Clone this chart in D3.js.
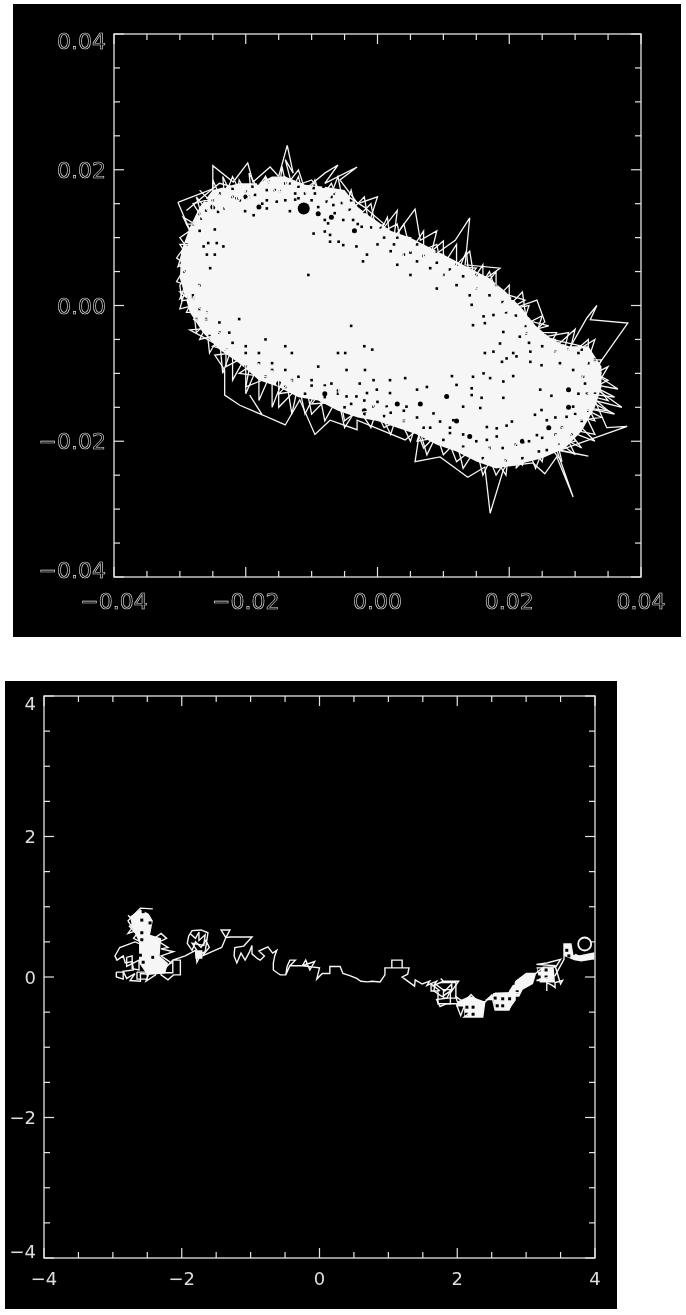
<!DOCTYPE html>
<html><head><meta charset="utf-8">
<script src="https://cdn.jsdelivr.net/npm/d3@7"></script>
<style>html,body{margin:0;background:#fff}svg{display:block}</style></head>
<body><div id="c"></div>
<script>
// ---------- top phase plot (values in thousandths of the axis unit) ----------
const topTickMajor = [-0.04,-0.02,0,0.02,0.04];
const topTickMinor = [-0.035,-0.03,-0.025,-0.015,-0.01,-0.005,0.005,0.01,0.015,0.025,0.03,0.035];
const topTickLabels = ["\u22120.04","\u22120.02","0.00","0.02","0.04"];
const topCore = [[-30,4],[-29.8,8],[-28.5,11.5],[-27,14.5],[-25,17],[-23,17.5],[-21,18],[-18,18],[-16,19],[-14,19],[-11,17.8],[-8,17.5],[-5,17],[-3,14.5],[-1,13],[2,11],[5,10],[8,8.5],[11,7],[14,5.5],[17,4],[19.5,2],[22,-0.5],[24,-3],[26.5,-5],[29,-6],[32,-6],[34,-9],[34,-12],[33,-15],[31,-18.5],[28.5,-21],[25,-22.5],[21,-23.5],[18,-24],[15,-23],[12,-21.5],[9,-20.5],[6,-19],[3,-18],[0,-17],[-3,-16.5],[-6,-15.5],[-9,-14],[-12,-13.5],[-15,-12],[-18,-11],[-21,-8.5],[-24,-6.5],[-26.5,-4],[-28.5,-1]];
const topOuter = [[-30.3,15.2],[-25,17.2],[-25,20.6],[-21.9,18.2],[-19.7,21],[-18.9,18.2],[-16.3,20.4],[-15,19],[-13.7,23.6],[-12.8,19.5],[-14,21.5],[-12.8,17],[-10.5,17.5],[-8,19.5],[-6,20.7],[-8,18],[-3.1,20.4],[-5.7,18.5],[-3,15],[0,16],[-1,13],[1,11.5],[3,14],[2.5,10],[5.7,14.2],[6.5,9.6],[9,11],[8,7],[11.8,9.6],[14,12.9],[13.3,6],[18.6,5.5],[15,3],[22.4,0.8],[19,-1],[24.2,0.8],[25.4,-2.4],[23.6,-4],[27.2,-4],[25.7,-6.6],[28.8,-6.9],[31.8,-1.8],[33.3,0],[32.3,-2.1],[38,-2.6],[32.7,-9.9],[36.5,-12.3],[32,-11.5],[37.1,-15],[33,-14],[34.8,-18],[37.9,-17.8],[27.7,-21.3],[32,-22.2],[27.2,-21.3],[29.7,-28.2],[27.2,-22.3],[25.4,-24.8],[23.6,-23.2],[20.1,-23.6],[21.6,-20.8],[19.1,-24.2],[17.1,-30.6],[16.3,-23.8],[13.7,-25.3],[9.5,-22.3],[5.7,-23],[6.5,-17.9],[4.2,-19.8],[-3.1,-16.9],[-3.1,-18.3],[-7.2,-16.9],[-9.5,-19],[-11.8,-13.9],[-14,-17.6],[-17.5,-16.1],[-19.4,-13.2],[-17.5,-16.1],[-20.9,-14.7],[-23.2,-13.2],[-23.2,-9.5],[-24.7,-7.3],[-22,-7],[-28.5,-3.6],[-25,-3.3],[-27,1.1],[-29.7,0.7],[-30,3],[-27.4,7.1],[-30.3,5.7],[-29.5,8.2],[-27,10],[-28.5,11.1],[-30.3,15.2]];
const topWeb = [[-27,17],[-24,14],[-22,19],[-20,15],[-17,19],[-16,15],[-12,20],[-10,14],[-7,18],[-5,13],[-2,16],[-1,10],[3,12],[4,7],[9,9],[10,4],[14,8],[15,2],[17,5],[19,-1],[22,2],[23,-5],[29,-4],[28,-8],[33,-5],[31,-11],[35,-9],[32,-14],[36,-16],[31,-15],[33,-19],[28,-18],[30,-22],[26,-19],[24,-24],[22,-19],[18,-25],[16,-20],[12,-23],[10,-18],[7,-21],[5,-16],[1,-18],[-1,-14],[-5,-17],[-6,-12],[-10,-16],[-11,-11],[-15,-15],[-15,-10],[-20,-12],[-19,-7],[-23,-9],[-23,-4],[-27,-5],[-25,-1],[-29,-1],[-27,3],[-30,1],[-28,6],[-30,9],[-27,9],[-29,12],[-26,12],[-28,15],[-24,16]];
const topWebTight = [[-28,10],[-29.5,13],[-26,11],[-27.5,16],[-25,13],[-25,18.5],[-23,14],[-23.5,19],[-21.5,15],[-21,18.5],[-19,15],[-19.5,19.5],[-17.5,16],[-17,19],[-15,16],[-14.5,20.5],[-13.5,16],[-12,19],[-11,15],[-9.5,18.5],[-8,14],[-6,19],[-5,14],[-4,17],[-3,13],[-1,15],[0,10],[1.5,13],[2,9],[4,12],[5,8],[7,11],[7,7],[10,9.5],[10,6],[12,9],[12,4.5],[13.5,8],[14,3],[16,6],[16,2.5],[18,5],[18,1],[20,3],[20,-0.5],[23,0],[22,-3],[25,-1.5],[24,-4.5],[27,-5],[26,-7],[30,-3.5],[29,-7.5],[32,-5],[32,-8],[34,-8],[33,-10],[35,-11],[33,-12],[36,-13.5],[32,-13],[35,-15.5],[31,-15],[34,-16.5],[30,-17],[33,-20],[29,-18.5],[31,-21],[27,-19],[28,-23],[25.5,-20],[25,-23],[23,-20.5],[22,-23.5],[20,-21],[19.5,-25],[17.5,-22],[16,-25],[15,-21],[13,-24],[12,-20],[10,-22],[9,-19],[7.5,-22],[6,-17],[5,-20],[3,-16],[2,-19],[0,-15],[-1,-18],[-3,-15],[-5,-18],[-6,-13.5],[-8,-17],[-9,-12],[-11,-16],[-12,-11.5],[-13,-16],[-14,-10],[-16,-15],[-16,-9.5],[-18,-14],[-18,-8.5],[-20,-13],[-20,-7.5],[-22,-11],[-22,-6],[-23.5,-10],[-24,-4.5],[-25.5,-7],[-26,-2.5],[-27.5,-4],[-28,0],[-30,-0.5],[-29,3],[-30.5,3.5],[-29,6],[-30.5,7],[-29,9]];
const topWebChords = [[-29,14],[-24,18],[-20,17],[-22,14],[-17,18],[-14,19],[-17,16],[-10,18.5],[-8,16],[-6,17],[-2,14.5],[1,12],[-1,11],[5,10],[3,8.5],[10,7.5],[8,6],[15,5.5],[13,3],[20,1.5],[18,-1],[26,-3],[22,-4],[31,-6],[27,-7],[34,-10],[31,-9],[35,-14],[31,-13],[33,-17],[29,-16],[30,-20],[26,-21],[27,-18],[21,-24],[22,-21],[16,-23],[17,-21],[11,-21],[12,-19],[6,-20],[7,-17],[1,-17],[2,-15],[-4,-16],[-3,-14],[-10,-14.5],[-8,-12],[-15,-13],[-13,-11],[-21,-10],[-18,-8],[-25,-6],[-22,-5],[-28,-2],[-25,-2],[-30,2],[-27,2],[-30,6],[-27,6],[-30,10],[-27,12]];
const topHoles = [[-23.9,18.7],[-23.2,17.5],[-21.4,15.8],[-20.9,15.5],[-19.4,16],[-18.6,16.3],[-16.8,15.5],[-15.3,15.3],[-13.3,18],[-12.5,16.5],[-12,15.8],[-24.2,13.8],[-23.2,14.3],[-20.1,13.9],[-18.8,13.3],[-16.8,14.3],[-13.3,13.9],[-12.5,15.6],[-14.8,16.8],[-15.6,17],[-16.8,17],[-18.1,18],[-11,16.5],[-9.7,17.3],[-8.2,17.5],[-6.7,17.5],[-7.7,15.3],[-6.7,14.8],[-5.4,15.1],[-4.2,14.1],[-6.5,13.6],[-5.2,12.6],[-3.7,12.6],[-2.4,11.6],[-8,12.6],[-7.5,12.1],[-9.7,10.6],[-8,10.9],[-7.2,10.4],[-5.9,9.4],[-5.2,8.9],[-7.2,9.4],[-3.2,8.7],[-1.6,7.5],[-2.2,6.5],[-10.5,4.5],[-25.4,5.5],[-25.7,9.2],[-24.4,9.2],[-23.4,8.7],[-26.4,8.7],[-25.9,7.5],[-24.7,7.5],[-26.7,12.8],[-24.7,11.2],[-4.9,-7],[-0.8,-6.5],[-4.7,-9.5],[-1.9,-9.5],[-0.6,-11],[1.9,-11],[4.2,-10.7],[-2.7,-11.5],[-1.6,-12.9],[-0.1,-12.4],[1.9,-12.9],[6,-12.4],[7.5,-12],[12,-11.7],[14.3,-12.2],[14.3,-13.2],[11.3,-10.4],[14.5,-10.5],[16.1,-10],[17.1,-10.7],[19.1,-11.2],[20.6,-10.4],[19.1,-13.6],[15.8,-13.6],[13,-14.9],[15.6,-15.1],[24.7,-12.4],[26.4,-13.3],[24.9,-15.4],[23.9,-16.1],[25.7,-16.9],[27,-16.5],[27.7,-8.5],[29.7,-9.5],[31.2,-10.5],[31.8,-13],[29.7,-14.9],[28.7,-16.4],[20.4,-17.1],[16.6,-17.9],[18.1,-18.1],[19.6,-17.7],[23.2,-6.8],[20.6,-7],[17.6,-6.8],[16.3,-7],[18.9,-8.3],[19.6,-7.8],[21.1,-7.5],[23.2,-8.3],[24.9,-8.8],[18.6,-5.6],[17.6,-1.4],[19.1,-3.9],[21.6,-4.6],[22.6,-4.1],[14.5,-2.9],[14.3,0.1],[16.1,-1.6],[16.3,-2.6],[8.5,-15.9],[9.5,-17.1],[11.5,-16.9],[16.6,-19.8],[18.1,-19.3],[24.2,-19.1],[25.7,-21.3],[11,-18.8],[4.4,-14.9],[1.4,-14.9],[-0.6,-14.9],[-3.2,-13.4],[-4.7,-13.4],[-26,-1],[-24,-2.5],[-22.5,-4],[-20,-6],[-18,-7],[-16,-8.5],[-14,-9.5],[-12,-10.5],[-10,-11],[-21,-2],[-17,-5],[-13,-7],[-9,-9],[-7,-11.5],[-6,-13],[-28,1.5],[-27,3],[-14,-6],[-6,-7],[-2,-6],[-4,-3],[0,9],[2,8],[4,7.5],[6,6.5],[8,5.5],[10,4.5],[12,3],[14,1.5],[5,4.5],[9,2.5],[3,6],[-27,11],[-26,14],[-25,15.5],[-22,16],[-20,16.8],[-17.5,15],[-14,15.5],[-10,15.5],[-9,14.5],[-7,16],[-3,12],[-1,11.5],[1,10],[2.5,9],[5,7.8],[7,7.3],[9,6.3],[11,5.3],[13,4.3],[15,2.5],[17,1.5],[19,0.5],[19.5,-1],[21,-1.5],[22.5,-3],[23,-5.5],[25,-6],[27,-6.8],[29,-6.5],[30.5,-7],[32,-8.5],[31.5,-11.5],[30.5,-13],[30,-16],[28,-18],[27,-19],[25,-19.5],[23,-20],[21,-20.5],[19,-21],[17,-21],[15,-20],[13,-19],[11,-18],[8,-18],[6,-16.5],[4,-15.5],[2,-15.8],[0,-14.2],[-2,-14],[-4,-14.5],[-6,-12.5],[-8,-11.8],[-10,-11.8],[-13,-11],[-16,-9.5],[-18,-8.5],[-20,-7],[-22,-5.5],[-24,-4],[-26,-2],[-27,-0.5],[-28,1],[-28,12],[-27,13.5],[-26,15.5],[-24,16.5],[-22,17.2],[-19,17.5],[-16.5,18.2],[-14,18],[-12,17.5],[-9.5,16.5],[-6.5,16.5],[-4,15.5],[-2,13.8],[0.5,11.5],[3,10],[6,9],[9,7.8],[12,6],[15,4.5],[18,3],[20.5,1],[23,-1.5],[25.5,-4],[28,-5.5],[31,-6.5],[33,-8],[33,-13],[32,-15.5],[31,-17],[29.5,-19],[27.5,-20.5],[24.5,-21.5],[22,-22.5],[19.5,-22.8],[16,-22.5],[13,-20.8],[10,-19.8],[7,-18],[4,-17],[1,-16.3],[-2,-16],[-5,-15],[-8,-13.5],[-11,-13],[-14,-12],[-17,-10.5],[-20,-9],[-23,-6.5],[-25.5,-4.5],[-27.5,-2],[-29,1],[-29.3,5],[-29,9]];
const topBigHoles = [[10.5,-13.4],[29,-12.4],[14,-19.3],[-15,-11.5],[-2,-15.5],[6.5,-14.5],[-9,13.5],[-3.5,11],[-20,16],[-7,13],[22,-20],[29,-15],[3,-14.5],[-8,-13],[12,-17],[26,-18],[-25,14.5],[-18,14.5]];
const topMarker = [[-11.2,14.3]];

// ---------- bottom phase plot ----------
const botTickMajor = [-4,-2,0,2,4];
const botTickMinor = [-3.5,-3,-2.5,-1.5,-1,-0.5,0.5,1,1.5,2.5,3,3.5];
const botTickLabels = ["\u22124","\u22122","0","2","4"];
const botPath = [[-2.42,0.97],[-2.6,0.98],[-2.68,0.9],[-2.78,0.8],[-2.72,0.7],[-2.78,0.62],[-2.6,0.68],[-2.7,0.55],[-2.6,0.5],[-2.55,0.45],[-2.68,0.5],[-2.9,0.42],[-2.97,0.3],[-2.94,0.24],[-2.85,0.3],[-2.82,0.2],[-2.72,0.22],[-2.7,0.1],[-2.85,0.08],[-2.8,-0.02],[-2.68,0.05],[-2.75,-0.05],[-2.6,-0.06],[-2.6,0.05],[-2.48,0.04],[-2.52,-0.06],[-2.38,0.03],[-2.38,0.15],[-2.4,0.55],[-2.3,0.62],[-2.22,0.55],[-2.33,0.5],[-2.2,0.42],[-2.3,0.4],[-2.12,0.36],[-2.3,0.3],[-2.15,0.2],[-2.3,0.12],[-2.3,0.03],[-2.2,-0.04],[-2.12,0.03],[-2.02,0.03],[-2.02,0.24],[-2.13,0.24],[-2.13,0.06],[-2.3,0.06],[-2.13,0.24],[-1.95,0.3],[-1.8,0.38],[-1.78,0.21],[-1.72,0.33],[-1.66,0.36],[-1.62,0.63],[-1.72,0.67],[-1.85,0.66],[-1.9,0.58],[-1.92,0.48],[-1.85,0.38],[-1.8,0.5],[-1.72,0.42],[-1.65,0.52],[-1.6,0.42],[-1.7,0.3],[-1.52,0.38],[-1.42,0.42],[-1.36,0.56],[-1.43,0.67],[-1.3,0.67],[-1.36,0.56],[-1.3,0.57],[-0.98,0.57],[-1.1,0.44],[-1.23,0.42],[-1.24,0.3],[-1.2,0.2],[-1.14,0.34],[-1.08,0.24],[-1.02,0.35],[-0.98,0.45],[-0.98,0.33],[-0.9,0.26],[-0.86,0.24],[-0.8,0.3],[-0.88,0.37],[-0.75,0.43],[-0.68,0.34],[-0.62,0.38],[-0.65,0.3],[-0.67,0.2],[-0.67,0.1],[-0.6,0.05],[-0.57,0.03],[-0.49,0.03],[-0.47,0.15],[-0.43,0.24],[-0.35,0.24],[-0.43,0.16],[-0.49,0.03],[-0.43,0.16],[-0.25,0.16],[-0.2,0.24],[-0.14,0.1],[-0.07,0.22],[-0.25,0.16],[0,0.13],[-0.04,-0.03],[0.04,0.05],[0.15,0.05],[0.15,0.15],[0.3,0.15],[0.34,0.05],[0.44,0.02],[0.54,-0.02],[0.6,-0.06],[0.7,-0.07],[0.76,-0.06],[0.88,-0.07],[0.95,0.03],[0.95,0.13],[1.05,0.13],[1.05,0.24],[1.2,0.24],[1.2,0.13],[0.96,0.13],[1.3,0.13],[1.28,0.04],[1.2,0],[1.38,-0.13],[1.39,-0.04],[1.49,-0.1],[1.6,-0.06],[1.56,-0.12],[1.7,-0.06],[1.66,-0.12],[1.8,-0.06],[1.76,-0.02],[1.8,-0.06],[2.02,-0.06],[1.92,-0.2],[1.92,-0.1],[1.82,-0.2],[1.68,-0.1],[1.66,-0.2],[1.78,-0.28],[1.9,-0.2],[1.85,-0.3],[1.7,-0.32],[1.75,-0.42],[1.85,-0.38],[2,-0.38],[2,-0.42],[2.05,-0.55],[2.1,-0.42],[2,-0.35],[1.98,-0.28],[2.1,-0.36],[2.2,-0.25],[2.3,-0.35],[2.4,-0.35],[2.37,-0.57],[2.1,-0.57],[2.4,-0.36],[2.5,-0.26],[2.55,-0.47],[2.75,-0.47],[2.85,-0.22],[2.52,-0.24],[2.9,-0.22],[3,-0.05],[3.15,0.06],[3.25,0.14],[3.43,0.14],[3.5,0.25],[3.3,0.2],[3.15,0.18],[3.42,0.16],[3.5,-0.1],[3.53,-0.05],[3.42,-0.08],[3.42,-0.15],[3.38,-0.12],[3.3,-0.08],[3.3,-0.2],[3.3,-0.05],[3.15,-0.05],[3.42,0.02],[3.55,0.25],[3.55,0.47],[3.65,0.47],[3.68,0.3],[3.78,0.3],[3.98,0.34],[3.98,0.25]];
const botLoops = [
  [[-2.8,0.28],[-2.72,0.3],[-2.72,0.12],[-2.62,0.1],[-2.62,0.24],[-2.8,0.15],[-2.8,0.28]],
  [[-2.95,0.07],[-2.85,0.07],[-2.85,-0.03],[-2.95,0],[-2.95,0.07]],
  [[-2.65,0.07],[-2.5,0.07],[-2.5,-0.03],[-2.65,-0.03],[-2.65,0.07]],
  [[-2.78,0.88],[-2.68,0.78],[-2.76,0.72],[-2.66,0.62]],
  [[1.75,-0.08],[1.98,-0.08],[1.98,-0.3],[1.8,-0.3],[1.8,-0.18],[1.9,-0.18],[1.9,-0.38],[1.72,-0.38],[1.72,-0.2],[1.62,-0.2],[1.62,-0.1],[1.75,-0.2]],
  [[-1.88,0.62],[-1.8,0.55],[-1.75,0.64],[-1.75,0.52],[-1.66,0.6],[-1.68,0.45],[-1.85,0.48],[-1.78,0.38]]
];
const botBlobs = [
  [[-2.75,0.86],[-2.6,0.96],[-2.48,0.9],[-2.42,0.8],[-2.46,0.6],[-2.3,0.55],[-2.32,0.3],[-2.2,0.2],[-2.24,0.05],[-2.5,0.03],[-2.62,0.2],[-2.62,0.5],[-2.72,0.7]],
  [[-1.81,0.38],[-1.7,0.38],[-1.7,0.26],[-1.8,0.26]],
  [[2,-0.35],[2.18,-0.27],[2.4,-0.35],[2.37,-0.57],[2.1,-0.57],[2.1,-0.42],[1.98,-0.42]],
  [[2.4,-0.33],[2.55,-0.22],[2.85,-0.22],[2.85,-0.33],[2.75,-0.47],[2.55,-0.47],[2.53,-0.33]],
  [[2.75,-0.2],[2.85,-0.05],[3,0.06],[3.15,0.06],[3.1,-0.1],[2.95,-0.18],[2.9,-0.28],[2.75,-0.28]],
  [[3.15,0.14],[3.4,0.14],[3.42,-0.08],[3.2,-0.08]],
  [[3.55,0.47],[3.65,0.47],[3.68,0.3],[3.72,0.33],[3.78,0.3],[3.98,0.34],[3.98,0.25],[3.8,0.22],[3.7,0.24],[3.55,0.3]]
];
const botHoles = [[2.14,-0.43],[2.23,-0.43],[2.13,-0.53],[2.23,-0.53],[2.55,-0.3],[2.66,-0.31],[2.76,-0.31],[2.58,-0.41],[2.66,-0.41],[3.19,0.1],[3.29,0.1],[3.19,0],[3.29,0],[2.87,-0.21],[2.81,-0.09],[3.59,0.38],[3.62,0.3],[-2.58,0.63],[-2.58,0.53],[-2.56,0.93],[-2.6,0.31],[-2.56,0.21],[-2.42,0.28],[-2.58,0.81],[-2.46,0.77]];
const botMarker = [[3.85,0.47]];

const W = 686, H = 1315, INK = "#f6f6f6", AXIS = "#e4e4e4";
const svg = d3.select("#c").append("svg").attr("width",W).attr("height",H);
const defs = svg.append("defs");
defs.append("filter").attr("id","soft").append("feGaussianBlur").attr("stdDeviation",0.45);

function frame(cfg){
  const {panel,xr,yr,dom,major,minor,labels,size,hollow,xLabelY,yLabelX} = cfg;
  svg.append("rect").attr("x",panel[0]).attr("y",panel[1]).attr("width",panel[2]-panel[0]).attr("height",panel[3]-panel[1]).attr("fill","#000");
  const g = svg.append("g").attr("filter","url(#soft)");
  const x = d3.scaleLinear().domain(dom).range(xr), y = d3.scaleLinear().domain(dom).range(yr);
  g.append("rect").attr("x",xr[0]).attr("y",yr[1]).attr("width",xr[1]-xr[0]).attr("height",yr[0]-yr[1]).attr("fill","none").attr("stroke",AXIS).attr("stroke-width",1.3);
  const ticks = (vals,len)=>{
    vals.forEach(v=>{
      g.append("line").attr("x1",x(v)).attr("x2",x(v)).attr("y1",yr[0]).attr("y2",yr[0]-len);
      g.append("line").attr("x1",x(v)).attr("x2",x(v)).attr("y1",yr[1]).attr("y2",yr[1]+len);
      g.append("line").attr("y1",y(v)).attr("y2",y(v)).attr("x1",xr[0]).attr("x2",xr[0]+len);
      g.append("line").attr("y1",y(v)).attr("y2",y(v)).attr("x1",xr[1]).attr("x2",xr[1]-len);
    });
  };
  ticks(major,cfg.majorLen); ticks(minor,cfg.minorLen);
  g.selectAll("line").attr("stroke",AXIS).attr("stroke-width",1.2);
  const txt = (sel)=>sel.attr("font-family","DejaVu Sans").attr("font-size",size)
    .attr("fill",hollow?"#000":"#ddd").attr("stroke",hollow?"#dcdcdc":"none").attr("stroke-width",hollow?0.65:0);
  major.forEach((v,i)=>{
    txt(g.append("text").attr("x",x(v)).attr("y",xLabelY).attr("text-anchor","middle").text(labels[i]));
    const shift = i===0?-cfg.endShift: i===major.length-1? cfg.endShift:0;
    txt(g.append("text").attr("x",yLabelX).attr("y",y(v)+shift+size*0.365).attr("text-anchor","end").text(labels[i]));
  });
  return {x,y,g};
}

// top plot
{
  const {x,y,g} = frame({panel:[13,4,681,637],xr:[114,641],yr:[577,34],dom:[-0.04,0.04],major:topTickMajor,minor:topTickMinor,labels:topTickLabels,size:22,hollow:true,xLabelY:609,yLabelX:106,endShift:7,majorLen:10,minorLen:6});
  const K = 1e-3;
  const line = d3.line().x(d=>x(d[0]*K)).y(d=>y(d[1]*K)).curve(d3.curveLinear);
  g.append("path").attr("d",line(topCore)+"Z").attr("fill",INK);
  g.selectAll("rect.h").data(topHoles).enter().append("rect").attr("class","h")
    .attr("x",d=>x(d[0]*K)-1.3).attr("y",d=>y(d[1]*K)-1.3).attr("width",2.6).attr("height",2.6).attr("fill","#000");
  g.selectAll("circle.h").data(topBigHoles).enter().append("circle").attr("class","h")
    .attr("cx",d=>x(d[0]*K)).attr("cy",d=>y(d[1]*K)).attr("r",2.5).attr("fill","#000");
  [topWebTight,topWebChords,topWeb,topOuter].forEach(p=>
    g.append("path").attr("d",line(p)).attr("fill","none").attr("stroke",INK).attr("stroke-width",1.3));
  g.selectAll("circle.m").data(topMarker).enter().append("circle").attr("class","m")
    .attr("cx",d=>x(d[0]*K)).attr("cy",d=>y(d[1]*K)).attr("r",6).attr("fill","#000");
}
// bottom plot
{
  const {x,y,g} = frame({panel:[5,681,617,1309],xr:[44,595],yr:[1258,696],dom:[-4,4],major:botTickMajor,minor:botTickMinor,labels:botTickLabels,size:18,hollow:false,xLabelY:1285,yLabelX:36,endShift:7,majorLen:10,minorLen:6});
  const line = d3.line().x(d=>x(d[0])).y(d=>y(d[1]));
  botBlobs.forEach(b=>g.append("path").attr("d",line(b)+"Z").attr("fill",INK));
  g.selectAll("rect.h").data(botHoles).enter().append("rect").attr("class","h")
    .attr("x",d=>x(d[0])-1.5).attr("y",d=>y(d[1])-1.5).attr("width",3).attr("height",3).attr("fill","#000");
  [botPath].concat(botLoops).forEach(p=>
    g.append("path").attr("d",line(p)).attr("fill","none").attr("stroke",INK).attr("stroke-width",1.4));
  g.selectAll("circle.m").data(botMarker).enter().append("circle").attr("class","m")
    .attr("cx",d=>x(d[0])).attr("cy",d=>y(d[1])).attr("r",6.5).attr("fill","#000").attr("stroke",INK).attr("stroke-width",1.8);
}
</script></body></html>
